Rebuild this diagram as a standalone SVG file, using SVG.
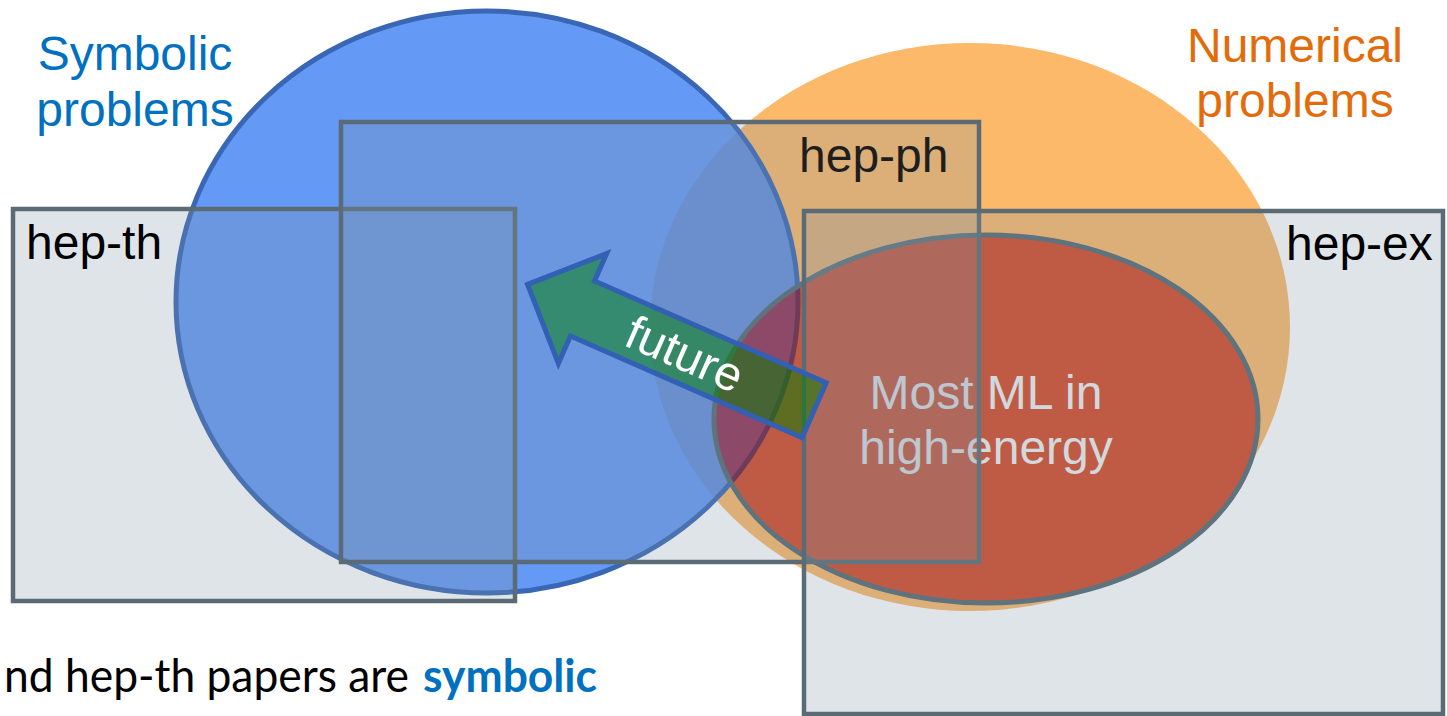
<svg xmlns="http://www.w3.org/2000/svg" width="1447" height="716" viewBox="0 0 1447 716">
<style>
.lbl{font-family:"Liberation Sans",Arial,Helvetica,sans-serif;font-size:48px}
.box{fill:#8094A4;fill-opacity:0.25;stroke:#5B6B75;stroke-width:4.5}
.foot{font-family:Lato,"Open Sans","Liberation Sans",sans-serif;font-size:46px}
</style>
<defs>
<clipPath id="clipRed"><ellipse cx="986" cy="419" rx="272" ry="184"/></clipPath>
</defs>
<rect width="1447" height="716" fill="#ffffff"/>

<g id="numerical">
<ellipse cx="970" cy="327" rx="320" ry="284" fill="#FDB96A"/>
<text class="lbl" x="1295" y="62" text-anchor="middle" fill="#E36C0A">Numerical</text>
<text class="lbl" x="1295" y="117" text-anchor="middle" fill="#E36C0A">problems</text>
</g>

<g id="symbolic">
<ellipse cx="487" cy="302" rx="311" ry="291" fill="#4283F3" fill-opacity="0.82" stroke="#3A67B5" stroke-width="5"/>
<text class="lbl" x="135" y="70" text-anchor="middle" fill="#0070C0">Symbolic</text>
<text class="lbl" x="135" y="126" text-anchor="middle" fill="#0070C0">problems</text>
</g>

<g id="most-ml">
<ellipse cx="986" cy="419" rx="272" ry="184" fill="#D54925"/>
<g clip-path="url(#clipRed)">
<ellipse cx="487" cy="302" rx="311" ry="291" fill="#903154" stroke="#681F42" stroke-width="5"/>
</g>
<ellipse cx="986" cy="419" rx="272" ry="184" fill="none" stroke="#536971" stroke-width="5"/>
<text class="lbl" x="986" y="409" text-anchor="middle" fill="#EEF0F2">Most ML in</text>
<text class="lbl" x="986" y="464" text-anchor="middle" fill="#EEF0F2">high-energy</text>
</g>

<g id="hep-th">
<rect class="box" x="13" y="209" width="502" height="392"/>
<text class="lbl" x="26" y="259" fill="#000000">hep-th</text>
</g>

<g id="hep-ph">
<rect class="box" x="341" y="122" width="638" height="440"/>
<text class="lbl" x="799" y="172" fill="#1E1E1E">hep-ph</text>
</g>

<g id="hep-ex">
<rect class="box" x="804" y="211" width="639" height="503"/>
<text class="lbl" x="1286" y="260" fill="#000000">hep-ex</text>
</g>

<g id="connectors">
<g transform="translate(582.5,308.5) rotate(23.7)">
<path d="M -60 0 L 0 -60 L 0 -30 L 253 -30 L 253 30 L 0 30 L 0 60 Z" fill="#008000" fill-opacity="0.5" stroke="#3160B5" stroke-width="5" stroke-linejoin="miter"/>
<text class="lbl" x="112" y="17" text-anchor="middle" fill="#ffffff">future</text>
</g>
</g>

<text class="foot" x="4" y="692" fill="#000000" textLength="405" lengthAdjust="spacingAndGlyphs">nd hep-th papers are</text>
<text class="foot" x="423" y="692" fill="#0070C0" font-weight="bold" textLength="174" lengthAdjust="spacingAndGlyphs">symbolic</text>
</svg>
